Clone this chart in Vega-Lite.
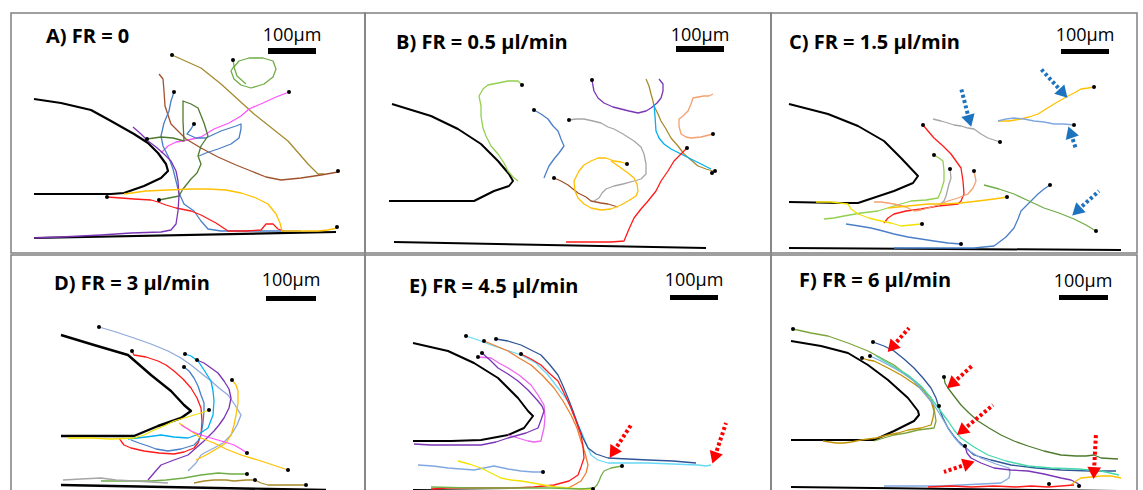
{
"$schema":"https://vega.github.io/schema/vega-lite/v6.json",
"padding":{"left":10,"top":12,"right":7,"bottom":0},
"background":"white",
"config":{"view":{"stroke":"#808080","strokeWidth":1.5}},
"datasets":{
"wA":[{"s":"pillar","x":33,"y":98},{"s":"pillar","x":60,"y":102},{"s":"pillar","x":90,"y":109},{"s":"pillar","x":110,"y":120},{"s":"pillar","x":133,"y":133},{"s":"pillar","x":147,"y":142},{"s":"pillar","x":157,"y":152},{"s":"pillar","x":165,"y":163},{"s":"pillar","x":167,"y":170},{"s":"pillar","x":160,"y":177},{"s":"pillar","x":143,"y":185},{"s":"pillar","x":123,"y":192},{"s":"pillar","x":110,"y":193},{"s":"pillar","x":33,"y":193},{"s":"wall","x":33,"y":237},{"s":"wall","x":335,"y":231}],
"wB":[{"s":"pillar","x":391,"y":103},{"s":"pillar","x":430,"y":115},{"s":"pillar","x":457,"y":128},{"s":"pillar","x":480,"y":143},{"s":"pillar","x":497,"y":160},{"s":"pillar","x":508,"y":173},{"s":"pillar","x":512,"y":180},{"s":"pillar","x":508,"y":185},{"s":"pillar","x":493,"y":190},{"s":"pillar","x":473,"y":200},{"s":"pillar","x":450,"y":200},{"s":"pillar","x":388,"y":200},{"s":"wall","x":393,"y":241},{"s":"wall","x":705,"y":247}],
"wC":[{"s":"pillar","x":788,"y":103},{"s":"pillar","x":827,"y":113},{"s":"pillar","x":857,"y":125},{"s":"pillar","x":883,"y":140},{"s":"pillar","x":900,"y":157},{"s":"pillar","x":917,"y":175},{"s":"pillar","x":912,"y":182},{"s":"pillar","x":893,"y":190},{"s":"pillar","x":857,"y":202},{"s":"pillar","x":840,"y":202},{"s":"pillar","x":788,"y":201},{"s":"wall","x":788,"y":247},{"s":"wall","x":1120,"y":249}],
"wD":[{"s":"pillar","x":60,"y":332},{"s":"pillar","x":93,"y":342},{"s":"pillar","x":127,"y":352},{"s":"pillar","x":150,"y":372},{"s":"pillar","x":170,"y":388},{"s":"pillar","x":183,"y":402},{"s":"pillar","x":190,"y":408},{"s":"pillar","x":180,"y":415},{"s":"pillar","x":157,"y":423},{"s":"pillar","x":133,"y":433},{"s":"pillar","x":100,"y":433},{"s":"pillar","x":60,"y":433},{"s":"wall","x":60,"y":482},{"s":"wall","x":325,"y":487}],
"wE":[{"s":"pillar","x":412,"y":340},{"s":"pillar","x":447,"y":348},{"s":"pillar","x":473,"y":360},{"s":"pillar","x":497,"y":375},{"s":"pillar","x":517,"y":395},{"s":"pillar","x":527,"y":408},{"s":"pillar","x":532,"y":413},{"s":"pillar","x":523,"y":425},{"s":"pillar","x":507,"y":432},{"s":"pillar","x":480,"y":437},{"s":"pillar","x":450,"y":438},{"s":"pillar","x":412,"y":438},{"s":"wall","x":412,"y":487},{"s":"wall","x":717,"y":490}],
"wF":[{"s":"pillar","x":790,"y":338},{"s":"pillar","x":820,"y":343},{"s":"pillar","x":847,"y":350},{"s":"pillar","x":867,"y":362},{"s":"pillar","x":887,"y":377},{"s":"pillar","x":907,"y":395},{"s":"pillar","x":917,"y":408},{"s":"pillar","x":918,"y":412},{"s":"pillar","x":913,"y":418},{"s":"pillar","x":893,"y":428},{"s":"pillar","x":873,"y":437},{"s":"pillar","x":790,"y":437},{"s":"wall","x":790,"y":484},{"s":"wall","x":1118,"y":488}],
"trA":[
{"s":"olive","x":171,"y":54},{"s":"olive","x":200,"y":67},{"s":"olive","x":220,"y":83},{"s":"olive","x":253,"y":113},{"s":"olive","x":287,"y":140},{"s":"olive","x":307,"y":163},{"s":"olive","x":317,"y":173},{"s":"olive","x":323,"y":173},
{"s":"green","x":232,"y":59},{"s":"green","x":233,"y":65},{"s":"green","x":230,"y":70},{"s":"green","x":233,"y":78},{"s":"green","x":240,"y":84},{"s":"green","x":250,"y":87},{"s":"green","x":263,"y":83},{"s":"green","x":272,"y":76},{"s":"green","x":275,"y":68},{"s":"green","x":272,"y":60},{"s":"green","x":262,"y":57},{"s":"green","x":248,"y":57},{"s":"green","x":238,"y":60},{"s":"green","x":233,"y":66},{"s":"green","x":236,"y":75},{"s":"green","x":245,"y":83},
{"s":"magenta","x":288,"y":91},{"s":"magenta","x":275,"y":96},{"s":"magenta","x":262,"y":102},{"s":"magenta","x":248,"y":108},{"s":"magenta","x":240,"y":115},{"s":"magenta","x":228,"y":122},{"s":"magenta","x":213,"y":128},{"s":"magenta","x":200,"y":136},{"s":"magenta","x":187,"y":139},{"s":"magenta","x":175,"y":141},{"s":"magenta","x":167,"y":145},{"s":"magenta","x":160,"y":152},
{"s":"brown","x":158,"y":73},{"s":"brown","x":162,"y":78},{"s":"brown","x":163,"y":90},{"s":"brown","x":164,"y":105},{"s":"brown","x":170,"y":123},{"s":"brown","x":185,"y":138},{"s":"brown","x":200,"y":147},{"s":"brown","x":217,"y":156},{"s":"brown","x":235,"y":164},{"s":"brown","x":250,"y":170},{"s":"brown","x":265,"y":176},{"s":"brown","x":280,"y":179},{"s":"brown","x":300,"y":177},{"s":"brown","x":320,"y":174},{"s":"brown","x":337,"y":171},
{"s":"blue","x":173,"y":91},{"s":"blue","x":170,"y":100},{"s":"blue","x":168,"y":110},{"s":"blue","x":163,"y":122},{"s":"blue","x":160,"y":135},{"s":"blue","x":162,"y":145},{"s":"blue","x":168,"y":157},{"s":"blue","x":172,"y":168},{"s":"blue","x":175,"y":180},{"s":"blue","x":178,"y":192},{"s":"blue","x":183,"y":203},{"s":"blue","x":193,"y":210},{"s":"blue","x":200,"y":220},{"s":"blue","x":207,"y":228},{"s":"blue","x":220,"y":230},{"s":"blue","x":260,"y":230},{"s":"blue","x":300,"y":230},
{"s":"blue2","x":193,"y":123},{"s":"blue2","x":190,"y":128},{"s":"blue2","x":186,"y":133},{"s":"blue2","x":195,"y":137},{"s":"blue2","x":205,"y":137},{"s":"blue2","x":220,"y":130},{"s":"blue2","x":235,"y":125},{"s":"blue2","x":240,"y":123},{"s":"blue2","x":240,"y":128},{"s":"blue2","x":238,"y":137},{"s":"blue2","x":230,"y":143},{"s":"blue2","x":217,"y":148},{"s":"blue2","x":205,"y":152},{"s":"blue2","x":198,"y":155},
{"s":"green_dk","x":146,"y":138},{"s":"green_dk","x":160,"y":136},{"s":"green_dk","x":172,"y":137},{"s":"green_dk","x":183,"y":140},{"s":"green_dk","x":182,"y":120},{"s":"green_dk","x":182,"y":100},{"s":"green_dk","x":190,"y":103},{"s":"green_dk","x":197,"y":107},{"s":"green_dk","x":203,"y":122},{"s":"green_dk","x":207,"y":135},{"s":"green_dk","x":200,"y":145},{"s":"green_dk","x":197,"y":155},{"s":"green_dk","x":200,"y":163},{"s":"green_dk","x":196,"y":172},{"s":"green_dk","x":190,"y":178},{"s":"green_dk","x":182,"y":188},{"s":"green_dk","x":178,"y":195},{"s":"green_dk","x":168,"y":197},{"s":"green_dk","x":158,"y":199},
{"s":"red","x":106,"y":196},{"s":"red","x":120,"y":197},{"s":"red","x":133,"y":198},{"s":"red","x":150,"y":199},{"s":"red","x":157,"y":201},{"s":"red","x":165,"y":204},{"s":"red","x":175,"y":207},{"s":"red","x":190,"y":210},{"s":"red","x":200,"y":214},{"s":"red","x":215,"y":222},{"s":"red","x":227,"y":230},{"s":"red","x":245,"y":230},{"s":"red","x":260,"y":229},{"s":"red","x":265,"y":223},{"s":"red","x":272,"y":223},{"s":"red","x":277,"y":228},{"s":"red","x":283,"y":230},
{"s":"purple","x":132,"y":126},{"s":"purple","x":140,"y":133},{"s":"purple","x":147,"y":140},{"s":"purple","x":155,"y":146},{"s":"purple","x":163,"y":153},{"s":"purple","x":170,"y":160},{"s":"purple","x":175,"y":170},{"s":"purple","x":177,"y":180},{"s":"purple","x":178,"y":195},{"s":"purple","x":177,"y":210},{"s":"purple","x":175,"y":223},{"s":"purple","x":170,"y":229},{"s":"purple","x":160,"y":231},{"s":"purple","x":130,"y":232},{"s":"purple","x":100,"y":234},{"s":"purple","x":60,"y":236},{"s":"purple","x":33,"y":237},
{"s":"gold","x":123,"y":193},{"s":"gold","x":145,"y":190},{"s":"gold","x":167,"y":189},{"s":"gold","x":190,"y":188},{"s":"gold","x":207,"y":188},{"s":"gold","x":225,"y":189},{"s":"gold","x":240,"y":192},{"s":"gold","x":255,"y":197},{"s":"gold","x":267,"y":203},{"s":"gold","x":275,"y":213},{"s":"gold","x":279,"y":222},{"s":"gold","x":281,"y":230},{"s":"gold","x":300,"y":230},{"s":"gold","x":317,"y":230},{"s":"gold","x":327,"y":229},{"s":"gold","x":336,"y":227}],
"trB":[
{"s":"green_lt","x":521,"y":84},{"s":"green_lt","x":517,"y":80},{"s":"green_lt","x":507,"y":80},{"s":"green_lt","x":497,"y":82},{"s":"green_lt","x":487,"y":84},{"s":"green_lt","x":482,"y":88},{"s":"green_lt","x":478,"y":95},{"s":"green_lt","x":480,"y":105},{"s":"green_lt","x":480,"y":115},{"s":"green_lt","x":482,"y":127},{"s":"green_lt","x":485,"y":135},{"s":"green_lt","x":490,"y":145},{"s":"green_lt","x":497,"y":153},{"s":"green_lt","x":503,"y":162},{"s":"green_lt","x":507,"y":170},{"s":"green_lt","x":512,"y":176},{"s":"green_lt","x":517,"y":180},
{"s":"blue","x":533,"y":109},{"s":"blue","x":540,"y":113},{"s":"blue","x":547,"y":118},{"s":"blue","x":552,"y":125},{"s":"blue","x":557,"y":130},{"s":"blue","x":560,"y":138},{"s":"blue","x":563,"y":145},{"s":"blue","x":558,"y":152},{"s":"blue","x":553,"y":158},{"s":"blue","x":548,"y":165},{"s":"blue","x":545,"y":172},{"s":"blue","x":543,"y":177},
{"s":"brown","x":553,"y":177},{"s":"brown","x":560,"y":180},{"s":"brown","x":567,"y":184},{"s":"brown","x":572,"y":188},{"s":"brown","x":577,"y":192},{"s":"brown","x":585,"y":196},{"s":"brown","x":590,"y":200},{"s":"brown","x":600,"y":202},{"s":"brown","x":607,"y":203},{"s":"brown","x":617,"y":206},
{"s":"gray","x":568,"y":119},{"s":"gray","x":575,"y":118},{"s":"gray","x":583,"y":118},{"s":"gray","x":592,"y":120},{"s":"gray","x":600,"y":122},{"s":"gray","x":607,"y":126},{"s":"gray","x":613,"y":128},{"s":"gray","x":622,"y":133},{"s":"gray","x":633,"y":140},{"s":"gray","x":640,"y":146},{"s":"gray","x":643,"y":153},{"s":"gray","x":645,"y":163},{"s":"gray","x":645,"y":173},{"s":"gray","x":640,"y":178},{"s":"gray","x":633,"y":180},{"s":"gray","x":622,"y":183},{"s":"gray","x":613,"y":185},{"s":"gray","x":605,"y":188},{"s":"gray","x":601,"y":192},{"s":"gray","x":598,"y":197},{"s":"gray","x":593,"y":200},
{"s":"gold","x":626,"y":163},{"s":"gold","x":620,"y":161},{"s":"gold","x":613,"y":160},{"s":"gold","x":605,"y":157},{"s":"gold","x":597,"y":157},{"s":"gold","x":590,"y":160},{"s":"gold","x":583,"y":164},{"s":"gold","x":578,"y":170},{"s":"gold","x":573,"y":180},{"s":"gold","x":574,"y":190},{"s":"gold","x":577,"y":197},{"s":"gold","x":583,"y":203},{"s":"gold","x":590,"y":207},{"s":"gold","x":600,"y":209},{"s":"gold","x":610,"y":208},{"s":"gold","x":620,"y":204},{"s":"gold","x":627,"y":200},{"s":"gold","x":635,"y":195},{"s":"gold","x":637,"y":190},{"s":"gold","x":636,"y":183},{"s":"gold","x":633,"y":177},{"s":"gold","x":627,"y":172},{"s":"gold","x":620,"y":167},{"s":"gold","x":613,"y":162},{"s":"gold","x":610,"y":160},
{"s":"purple","x":591,"y":79},{"s":"purple","x":592,"y":85},{"s":"purple","x":593,"y":90},{"s":"purple","x":597,"y":97},{"s":"purple","x":603,"y":102},{"s":"purple","x":612,"y":106},{"s":"purple","x":620,"y":108},{"s":"purple","x":628,"y":110},{"s":"purple","x":637,"y":112},{"s":"purple","x":645,"y":110},{"s":"purple","x":650,"y":107},{"s":"purple","x":656,"y":102},{"s":"purple","x":660,"y":97},{"s":"purple","x":662,"y":90},{"s":"purple","x":662,"y":83},{"s":"purple","x":658,"y":78},
{"s":"olive","x":645,"y":78},{"s":"olive","x":648,"y":85},{"s":"olive","x":650,"y":93},{"s":"olive","x":652,"y":100},{"s":"olive","x":653,"y":105},{"s":"olive","x":657,"y":113},{"s":"olive","x":660,"y":120},{"s":"olive","x":665,"y":128},{"s":"olive","x":670,"y":137},{"s":"olive","x":677,"y":145},{"s":"olive","x":683,"y":153},{"s":"olive","x":690,"y":159},{"s":"olive","x":697,"y":165},{"s":"olive","x":705,"y":168},{"s":"olive","x":712,"y":170},
{"s":"cyan","x":653,"y":103},{"s":"cyan","x":654,"y":115},{"s":"cyan","x":655,"y":130},{"s":"cyan","x":658,"y":137},{"s":"cyan","x":663,"y":143},{"s":"cyan","x":670,"y":148},{"s":"cyan","x":680,"y":153},{"s":"cyan","x":690,"y":158},{"s":"cyan","x":700,"y":163},{"s":"cyan","x":710,"y":168},
{"s":"orange_lt","x":712,"y":93},{"s":"orange_lt","x":708,"y":95},{"s":"orange_lt","x":703,"y":95},{"s":"orange_lt","x":697,"y":96},{"s":"orange_lt","x":692,"y":97},{"s":"orange_lt","x":690,"y":103},{"s":"orange_lt","x":687,"y":110},{"s":"orange_lt","x":682,"y":115},{"s":"orange_lt","x":678,"y":118},{"s":"orange_lt","x":678,"y":125},{"s":"orange_lt","x":680,"y":133},{"s":"orange_lt","x":685,"y":136},{"s":"orange_lt","x":690,"y":137},{"s":"orange_lt","x":700,"y":136},{"s":"orange_lt","x":712,"y":133},
{"s":"red","x":686,"y":147},{"s":"red","x":680,"y":153},{"s":"red","x":673,"y":160},{"s":"red","x":667,"y":170},{"s":"red","x":660,"y":180},{"s":"red","x":655,"y":190},{"s":"red","x":647,"y":200},{"s":"red","x":640,"y":208},{"s":"red","x":633,"y":217},{"s":"red","x":628,"y":228},{"s":"red","x":623,"y":240},{"s":"red","x":610,"y":241},{"s":"red","x":595,"y":241},{"s":"red","x":580,"y":241},{"s":"red","x":565,"y":241}],
"trC":[
{"s":"gray","x":932,"y":118},{"s":"gray","x":940,"y":120},{"s":"gray","x":947,"y":122},{"s":"gray","x":953,"y":124},{"s":"gray","x":960,"y":125},{"s":"gray","x":967,"y":127},{"s":"gray","x":973,"y":128},{"s":"gray","x":980,"y":133},{"s":"gray","x":987,"y":137},{"s":"gray","x":993,"y":139},{"s":"gray","x":999,"y":141},
{"s":"gold","x":1093,"y":86},{"s":"gold","x":1087,"y":87},{"s":"gold","x":1080,"y":88},{"s":"gold","x":1073,"y":92},{"s":"gold","x":1067,"y":95},{"s":"gold","x":1060,"y":99},{"s":"gold","x":1053,"y":103},{"s":"gold","x":1045,"y":108},{"s":"gold","x":1037,"y":113},{"s":"gold","x":1028,"y":116},{"s":"gold","x":1020,"y":118},{"s":"gold","x":1008,"y":120},{"s":"gold","x":997,"y":120},
{"s":"blue_lt","x":997,"y":120},{"s":"blue_lt","x":1005,"y":118},{"s":"blue_lt","x":1013,"y":117},{"s":"blue_lt","x":1023,"y":118},{"s":"blue_lt","x":1033,"y":120},{"s":"blue_lt","x":1043,"y":121},{"s":"blue_lt","x":1053,"y":123},{"s":"blue_lt","x":1063,"y":123},{"s":"blue_lt","x":1073,"y":124},
{"s":"red","x":922,"y":124},{"s":"red","x":927,"y":130},{"s":"red","x":933,"y":137},{"s":"red","x":942,"y":145},{"s":"red","x":950,"y":153},{"s":"red","x":955,"y":160},{"s":"red","x":960,"y":167},{"s":"red","x":962,"y":180},{"s":"red","x":963,"y":193},{"s":"red","x":960,"y":200},{"s":"red","x":957,"y":203},{"s":"red","x":947,"y":204},{"s":"red","x":937,"y":205},{"s":"red","x":920,"y":208},{"s":"red","x":905,"y":210},{"s":"red","x":893,"y":213},{"s":"red","x":887,"y":217},{"s":"red","x":883,"y":222},
{"s":"green_lt","x":933,"y":154},{"s":"green_lt","x":938,"y":157},{"s":"green_lt","x":942,"y":160},{"s":"green_lt","x":943,"y":170},{"s":"green_lt","x":943,"y":180},{"s":"green_lt","x":940,"y":190},{"s":"green_lt","x":937,"y":197},{"s":"green_lt","x":925,"y":199},{"s":"green_lt","x":910,"y":200},{"s":"green_lt","x":893,"y":205},{"s":"green_lt","x":877,"y":210},{"s":"green_lt","x":860,"y":212},{"s":"green_lt","x":843,"y":215},{"s":"green_lt","x":833,"y":217},{"s":"green_lt","x":823,"y":218},
{"s":"gray2","x":949,"y":168},{"s":"gray2","x":950,"y":177},{"s":"gray2","x":948,"y":183},{"s":"gray2","x":947,"y":187},{"s":"gray2","x":945,"y":195},{"s":"gray2","x":943,"y":200},{"s":"gray2","x":937,"y":205},
{"s":"orange_lt","x":973,"y":170},{"s":"orange_lt","x":975,"y":180},{"s":"orange_lt","x":972,"y":187},{"s":"orange_lt","x":967,"y":193},{"s":"orange_lt","x":957,"y":197},{"s":"orange_lt","x":947,"y":200},{"s":"orange_lt","x":937,"y":204},{"s":"orange_lt","x":927,"y":207},{"s":"orange_lt","x":920,"y":209},{"s":"orange_lt","x":913,"y":210},{"s":"orange_lt","x":905,"y":206},{"s":"orange_lt","x":893,"y":203},{"s":"orange_lt","x":880,"y":201},{"s":"orange_lt","x":873,"y":201},
{"s":"gold2","x":887,"y":207},{"s":"gold2","x":907,"y":205},{"s":"gold2","x":927,"y":203},{"s":"gold2","x":943,"y":203},{"s":"gold2","x":960,"y":202},{"s":"gold2","x":977,"y":200},{"s":"gold2","x":993,"y":198},{"s":"gold2","x":1000,"y":197},{"s":"gold2","x":1006,"y":196},
{"s":"yellow","x":815,"y":201},{"s":"yellow","x":830,"y":201},{"s":"yellow","x":847,"y":203},{"s":"yellow","x":850,"y":208},{"s":"yellow","x":857,"y":213},{"s":"yellow","x":868,"y":217},{"s":"yellow","x":880,"y":220},{"s":"yellow","x":890,"y":222},{"s":"yellow","x":900,"y":225},{"s":"yellow","x":910,"y":224},{"s":"yellow","x":920,"y":223},
{"s":"blue","x":845,"y":223},{"s":"blue","x":858,"y":225},{"s":"blue","x":870,"y":227},{"s":"blue","x":882,"y":230},{"s":"blue","x":893,"y":233},{"s":"blue","x":907,"y":236},{"s":"blue","x":920,"y":238},{"s":"blue","x":933,"y":240},{"s":"blue","x":947,"y":242},{"s":"blue","x":960,"y":243},
{"s":"blue2","x":1049,"y":184},{"s":"blue2","x":1043,"y":188},{"s":"blue2","x":1037,"y":193},{"s":"blue2","x":1030,"y":200},{"s":"blue2","x":1020,"y":210},{"s":"blue2","x":1017,"y":218},{"s":"blue2","x":1013,"y":227},{"s":"blue2","x":1005,"y":236},{"s":"blue2","x":993,"y":245},{"s":"blue2","x":983,"y":246},{"s":"blue2","x":973,"y":247},{"s":"blue2","x":940,"y":247},{"s":"blue2","x":893,"y":247},
{"s":"green","x":983,"y":184},{"s":"green","x":998,"y":188},{"s":"green","x":1013,"y":193},{"s":"green","x":1028,"y":200},{"s":"green","x":1043,"y":207},{"s":"green","x":1058,"y":212},{"s":"green","x":1073,"y":218},{"s":"green","x":1085,"y":224},{"s":"green","x":1095,"y":230}],
"trD":[
{"s":"bluegray","x":98,"y":324},{"s":"bluegray","x":115,"y":329},{"s":"bluegray","x":133,"y":335},{"s":"bluegray","x":150,"y":341},{"s":"bluegray","x":167,"y":348},{"s":"bluegray","x":180,"y":355},{"s":"bluegray","x":190,"y":362},{"s":"bluegray","x":200,"y":370},{"s":"bluegray","x":210,"y":378},{"s":"bluegray","x":218,"y":385},{"s":"bluegray","x":227,"y":392},{"s":"bluegray","x":234,"y":402},{"s":"bluegray","x":240,"y":412},{"s":"bluegray","x":236,"y":422},{"s":"bluegray","x":230,"y":432},{"s":"bluegray","x":222,"y":440},{"s":"bluegray","x":213,"y":445},{"s":"bluegray","x":205,"y":449},{"s":"bluegray","x":200,"y":452},{"s":"bluegray","x":195,"y":460},{"s":"bluegray","x":187,"y":468},
{"s":"red","x":131,"y":348},{"s":"red","x":133,"y":352},{"s":"red","x":145,"y":354},{"s":"red","x":157,"y":358},{"s":"red","x":165,"y":362},{"s":"red","x":173,"y":368},{"s":"red","x":182,"y":376},{"s":"red","x":190,"y":385},{"s":"red","x":196,"y":395},{"s":"red","x":200,"y":405},{"s":"red","x":201,"y":418},{"s":"red","x":200,"y":432},{"s":"red","x":197,"y":440},{"s":"red","x":193,"y":445},{"s":"red","x":183,"y":449},{"s":"red","x":173,"y":451},{"s":"red","x":158,"y":450},{"s":"red","x":143,"y":448},{"s":"red","x":130,"y":445},{"s":"red","x":123,"y":442},{"s":"red","x":120,"y":438},{"s":"red","x":118,"y":435},
{"s":"cyan","x":184,"y":351},{"s":"cyan","x":190,"y":353},{"s":"cyan","x":197,"y":358},{"s":"cyan","x":203,"y":367},{"s":"cyan","x":210,"y":378},{"s":"cyan","x":212,"y":388},{"s":"cyan","x":213,"y":398},{"s":"cyan","x":212,"y":412},{"s":"cyan","x":207,"y":425},{"s":"cyan","x":198,"y":431},{"s":"cyan","x":187,"y":435},{"s":"cyan","x":173,"y":434},{"s":"cyan","x":160,"y":432},{"s":"cyan","x":145,"y":434},{"s":"cyan","x":127,"y":436},
{"s":"blue","x":183,"y":364},{"s":"blue","x":188,"y":368},{"s":"blue","x":193,"y":375},{"s":"blue","x":197,"y":383},{"s":"blue","x":200,"y":392},{"s":"blue","x":203,"y":400},{"s":"blue","x":203,"y":408},{"s":"blue","x":202,"y":420},{"s":"blue","x":200,"y":432},{"s":"blue","x":197,"y":438},{"s":"blue","x":193,"y":442},{"s":"blue","x":180,"y":446},{"s":"blue","x":167,"y":448},{"s":"blue","x":155,"y":446},{"s":"blue","x":147,"y":443},{"s":"blue","x":138,"y":440},{"s":"blue","x":130,"y":437},
{"s":"purple","x":196,"y":357},{"s":"purple","x":203,"y":360},{"s":"purple","x":210,"y":365},{"s":"purple","x":217,"y":370},{"s":"purple","x":223,"y":378},{"s":"purple","x":228,"y":386},{"s":"purple","x":230,"y":395},{"s":"purple","x":228,"y":405},{"s":"purple","x":223,"y":415},{"s":"purple","x":218,"y":422},{"s":"purple","x":213,"y":428},{"s":"purple","x":208,"y":433},{"s":"purple","x":203,"y":438},{"s":"purple","x":195,"y":445},{"s":"purple","x":187,"y":452},{"s":"purple","x":173,"y":457},{"s":"purple","x":160,"y":462},{"s":"purple","x":153,"y":470},{"s":"purple","x":147,"y":477},
{"s":"gold","x":231,"y":377},{"s":"gold","x":235,"y":382},{"s":"gold","x":237,"y":388},{"s":"gold","x":237,"y":400},{"s":"gold","x":235,"y":412},{"s":"gold","x":233,"y":422},{"s":"gold","x":230,"y":432},{"s":"gold","x":225,"y":440},{"s":"gold","x":217,"y":445},{"s":"gold","x":205,"y":452},{"s":"gold","x":195,"y":457},
{"s":"gold2","x":178,"y":420},{"s":"gold2","x":190,"y":428},{"s":"gold2","x":200,"y":435},{"s":"gold2","x":213,"y":440},{"s":"gold2","x":225,"y":446},{"s":"gold2","x":240,"y":452},{"s":"gold2","x":260,"y":458},{"s":"gold2","x":275,"y":463},{"s":"gold2","x":287,"y":467},
{"s":"yellow","x":208,"y":407},{"s":"yellow","x":200,"y":410},{"s":"yellow","x":193,"y":412},{"s":"yellow","x":183,"y":415},{"s":"yellow","x":173,"y":418},{"s":"yellow","x":163,"y":423},{"s":"yellow","x":153,"y":427},{"s":"yellow","x":143,"y":432},{"s":"yellow","x":133,"y":435},{"s":"yellow","x":110,"y":436},{"s":"yellow","x":90,"y":435},{"s":"yellow","x":67,"y":435},
{"s":"magenta","x":180,"y":422},{"s":"magenta","x":190,"y":428},{"s":"magenta","x":200,"y":432},{"s":"magenta","x":210,"y":435},{"s":"magenta","x":220,"y":438},{"s":"magenta","x":227,"y":440},{"s":"magenta","x":233,"y":442},{"s":"magenta","x":240,"y":446},{"s":"magenta","x":246,"y":450},
{"s":"green","x":100,"y":478},{"s":"green","x":125,"y":478},{"s":"green","x":150,"y":478},{"s":"green","x":165,"y":477},{"s":"green","x":183,"y":475},{"s":"green","x":200,"y":472},{"s":"green","x":217,"y":470},{"s":"green","x":230,"y":471},{"s":"green","x":246,"y":471},
{"s":"gray","x":62,"y":477},{"s":"gray","x":80,"y":476},{"s":"gray","x":100,"y":475},{"s":"gray","x":115,"y":477},{"s":"gray","x":133,"y":478},{"s":"gray","x":150,"y":479},{"s":"gray","x":167,"y":480},
{"s":"olive","x":193,"y":480},{"s":"olive","x":203,"y":478},{"s":"olive","x":213,"y":477},{"s":"olive","x":225,"y":477},{"s":"olive","x":233,"y":478},{"s":"olive","x":245,"y":477},{"s":"olive","x":254,"y":477},{"s":"olive","x":260,"y":480},{"s":"olive","x":267,"y":482},{"s":"olive","x":285,"y":482},{"s":"olive","x":305,"y":482}],
"trE":[
{"s":"cyan_lt","x":465,"y":333},{"s":"cyan_lt","x":477,"y":337},{"s":"cyan_lt","x":490,"y":342},{"s":"cyan_lt","x":505,"y":347},{"s":"cyan_lt","x":520,"y":352},{"s":"cyan_lt","x":535,"y":360},{"s":"cyan_lt","x":547,"y":372},{"s":"cyan_lt","x":557,"y":385},{"s":"cyan_lt","x":567,"y":398},{"s":"cyan_lt","x":573,"y":413},{"s":"cyan_lt","x":580,"y":428},{"s":"cyan_lt","x":585,"y":440},{"s":"cyan_lt","x":590,"y":452},{"s":"cyan_lt","x":597,"y":457},{"s":"cyan_lt","x":607,"y":460},{"s":"cyan_lt","x":627,"y":460},{"s":"cyan_lt","x":647,"y":460},{"s":"cyan_lt","x":672,"y":461},{"s":"cyan_lt","x":697,"y":462},{"s":"cyan_lt","x":705,"y":463},{"s":"cyan_lt","x":710,"y":462},
{"s":"blue_dk","x":495,"y":336},{"s":"blue_dk","x":507,"y":338},{"s":"blue_dk","x":520,"y":342},{"s":"blue_dk","x":530,"y":347},{"s":"blue_dk","x":540,"y":352},{"s":"blue_dk","x":549,"y":362},{"s":"blue_dk","x":557,"y":372},{"s":"blue_dk","x":562,"y":383},{"s":"blue_dk","x":567,"y":395},{"s":"blue_dk","x":572,"y":408},{"s":"blue_dk","x":577,"y":422},{"s":"blue_dk","x":582,"y":435},{"s":"blue_dk","x":587,"y":445},{"s":"blue_dk","x":595,"y":451},{"s":"blue_dk","x":607,"y":455},{"s":"blue_dk","x":627,"y":456},{"s":"blue_dk","x":647,"y":457},{"s":"blue_dk","x":672,"y":458},{"s":"blue_dk","x":695,"y":460},
{"s":"orange","x":483,"y":338},{"s":"orange","x":495,"y":343},{"s":"orange","x":507,"y":348},{"s":"orange","x":518,"y":355},{"s":"orange","x":530,"y":362},{"s":"orange","x":542,"y":373},{"s":"orange","x":553,"y":385},{"s":"orange","x":562,"y":398},{"s":"orange","x":570,"y":412},{"s":"orange","x":576,"y":425},{"s":"orange","x":580,"y":438},{"s":"orange","x":584,"y":450},{"s":"orange","x":587,"y":462},{"s":"orange","x":585,"y":470},{"s":"orange","x":580,"y":478},{"s":"orange","x":573,"y":482},{"s":"orange","x":567,"y":485},
{"s":"red","x":520,"y":351},{"s":"red","x":530,"y":356},{"s":"red","x":540,"y":362},{"s":"red","x":548,"y":370},{"s":"red","x":557,"y":378},{"s":"red","x":563,"y":390},{"s":"red","x":570,"y":405},{"s":"red","x":575,"y":418},{"s":"red","x":580,"y":432},{"s":"red","x":582,"y":443},{"s":"red","x":583,"y":455},{"s":"red","x":580,"y":464},{"s":"red","x":577,"y":472},{"s":"red","x":568,"y":478},{"s":"red","x":553,"y":482},{"s":"red","x":533,"y":484},{"s":"red","x":513,"y":485},{"s":"red","x":480,"y":485},{"s":"red","x":447,"y":485},{"s":"red","x":430,"y":486},
{"s":"magenta2","x":477,"y":354},{"s":"magenta2","x":490,"y":355},{"s":"magenta2","x":498,"y":360},{"s":"magenta2","x":507,"y":365},{"s":"magenta2","x":518,"y":372},{"s":"magenta2","x":530,"y":382},{"s":"magenta2","x":537,"y":392},{"s":"magenta2","x":543,"y":402},{"s":"magenta2","x":544,"y":415},{"s":"magenta2","x":543,"y":425},{"s":"magenta2","x":541,"y":433},{"s":"magenta2","x":540,"y":438},{"s":"magenta2","x":533,"y":439},{"s":"magenta2","x":527,"y":438},{"s":"magenta2","x":517,"y":435},{"s":"magenta2","x":507,"y":432},
{"s":"purple","x":481,"y":350},{"s":"purple","x":489,"y":357},{"s":"purple","x":497,"y":365},{"s":"purple","x":507,"y":371},{"s":"purple","x":517,"y":378},{"s":"purple","x":527,"y":387},{"s":"purple","x":537,"y":398},{"s":"purple","x":541,"y":403},{"s":"purple","x":543,"y":408},{"s":"purple","x":540,"y":417},{"s":"purple","x":537,"y":425},{"s":"purple","x":525,"y":430},{"s":"purple","x":507,"y":435},{"s":"purple","x":495,"y":439},{"s":"purple","x":480,"y":442},{"s":"purple","x":463,"y":442},{"s":"purple","x":447,"y":442},{"s":"purple","x":430,"y":442},{"s":"purple","x":413,"y":441},
{"s":"blue_lt","x":417,"y":462},{"s":"blue_lt","x":432,"y":463},{"s":"blue_lt","x":447,"y":465},{"s":"blue_lt","x":460,"y":466},{"s":"blue_lt","x":473,"y":467},{"s":"blue_lt","x":483,"y":465},{"s":"blue_lt","x":493,"y":463},{"s":"blue_lt","x":507,"y":466},{"s":"blue_lt","x":520,"y":468},{"s":"blue_lt","x":532,"y":469},{"s":"blue_lt","x":542,"y":469},
{"s":"yellow","x":457,"y":458},{"s":"yellow","x":468,"y":461},{"s":"yellow","x":480,"y":465},{"s":"yellow","x":490,"y":470},{"s":"yellow","x":500,"y":475},{"s":"yellow","x":510,"y":477},{"s":"yellow","x":520,"y":478},{"s":"yellow","x":532,"y":480},{"s":"yellow","x":543,"y":482},{"s":"yellow","x":555,"y":484},{"s":"yellow","x":567,"y":485},{"s":"yellow","x":580,"y":486},{"s":"yellow","x":590,"y":486},
{"s":"green","x":430,"y":484},{"s":"green","x":470,"y":485},{"s":"green","x":513,"y":485},{"s":"green","x":550,"y":485},{"s":"green","x":580,"y":486},{"s":"green","x":593,"y":485},{"s":"green","x":596,"y":482},{"s":"green","x":598,"y":478},{"s":"green","x":600,"y":473},{"s":"green","x":603,"y":468},{"s":"green","x":610,"y":465},{"s":"green","x":621,"y":463}],
"trF":[
{"s":"olivegreen","x":792,"y":326},{"s":"olivegreen","x":810,"y":330},{"s":"olivegreen","x":827,"y":333},{"s":"olivegreen","x":847,"y":340},{"s":"olivegreen","x":867,"y":348},{"s":"olivegreen","x":880,"y":355},{"s":"olivegreen","x":893,"y":362},{"s":"olivegreen","x":903,"y":370},{"s":"olivegreen","x":913,"y":378},{"s":"olivegreen","x":922,"y":386},{"s":"olivegreen","x":930,"y":395},{"s":"olivegreen","x":933,"y":405},{"s":"olivegreen","x":935,"y":418},{"s":"olivegreen","x":933,"y":425},{"s":"olivegreen","x":925,"y":426},{"s":"olivegreen","x":917,"y":427},{"s":"olivegreen","x":905,"y":430},{"s":"olivegreen","x":893,"y":432},{"s":"olivegreen","x":883,"y":435},{"s":"olivegreen","x":873,"y":438},
{"s":"goldbrown","x":861,"y":355},{"s":"goldbrown","x":867,"y":357},{"s":"goldbrown","x":873,"y":358},{"s":"goldbrown","x":887,"y":365},{"s":"goldbrown","x":900,"y":372},{"s":"goldbrown","x":912,"y":380},{"s":"goldbrown","x":923,"y":388},{"s":"goldbrown","x":930,"y":398},{"s":"goldbrown","x":933,"y":408},{"s":"goldbrown","x":932,"y":415},{"s":"goldbrown","x":930,"y":422},{"s":"goldbrown","x":920,"y":425},{"s":"goldbrown","x":907,"y":427},{"s":"goldbrown","x":897,"y":430},{"s":"goldbrown","x":887,"y":432},{"s":"goldbrown","x":875,"y":435},{"s":"goldbrown","x":860,"y":437},{"s":"goldbrown","x":850,"y":439},{"s":"goldbrown","x":843,"y":440},{"s":"goldbrown","x":835,"y":440},{"s":"goldbrown","x":822,"y":438},
{"s":"blue_dk","x":872,"y":339},{"s":"blue_dk","x":883,"y":343},{"s":"blue_dk","x":893,"y":348},{"s":"blue_dk","x":903,"y":356},{"s":"blue_dk","x":913,"y":365},{"s":"blue_dk","x":922,"y":375},{"s":"blue_dk","x":930,"y":385},{"s":"blue_dk","x":935,"y":395},{"s":"blue_dk","x":938,"y":405},{"s":"blue_dk","x":942,"y":415},{"s":"blue_dk","x":947,"y":425},{"s":"blue_dk","x":952,"y":432},{"s":"blue_dk","x":957,"y":438},{"s":"blue_dk","x":965,"y":445},{"s":"blue_dk","x":973,"y":452},{"s":"blue_dk","x":990,"y":457},{"s":"blue_dk","x":1010,"y":462},{"s":"blue_dk","x":1035,"y":465},{"s":"blue_dk","x":1060,"y":467},{"s":"blue_dk","x":1090,"y":468},{"s":"blue_dk","x":1115,"y":468},
{"s":"blue_lt","x":869,"y":353},{"s":"blue_lt","x":880,"y":358},{"s":"blue_lt","x":893,"y":365},{"s":"blue_lt","x":903,"y":371},{"s":"blue_lt","x":913,"y":378},{"s":"blue_lt","x":923,"y":390},{"s":"blue_lt","x":933,"y":402},{"s":"blue_lt","x":940,"y":413},{"s":"blue_lt","x":947,"y":425},{"s":"blue_lt","x":953,"y":434},{"s":"blue_lt","x":960,"y":442},{"s":"blue_lt","x":970,"y":449},{"s":"blue_lt","x":980,"y":455},{"s":"blue_lt","x":995,"y":461},{"s":"blue_lt","x":1008,"y":465},{"s":"blue_lt","x":1009,"y":470},{"s":"blue_lt","x":1008,"y":475},{"s":"blue_lt","x":1000,"y":480},{"s":"blue_lt","x":980,"y":481},{"s":"blue_lt","x":960,"y":482},{"s":"blue_lt","x":940,"y":483},{"s":"blue_lt","x":927,"y":483},{"s":"blue_lt","x":905,"y":483},{"s":"blue_lt","x":883,"y":483},
{"s":"teal","x":875,"y":353},{"s":"teal","x":890,"y":362},{"s":"teal","x":907,"y":372},{"s":"teal","x":920,"y":383},{"s":"teal","x":930,"y":395},{"s":"teal","x":938,"y":406},{"s":"teal","x":947,"y":418},{"s":"teal","x":953,"y":427},{"s":"teal","x":960,"y":435},{"s":"teal","x":973,"y":444},{"s":"teal","x":987,"y":452},{"s":"teal","x":1005,"y":458},{"s":"teal","x":1027,"y":463},{"s":"teal","x":1050,"y":465},{"s":"teal","x":1077,"y":466},{"s":"teal","x":1100,"y":468},{"s":"teal","x":1118,"y":472},
{"s":"green_dk","x":943,"y":374},{"s":"green_dk","x":944,"y":380},{"s":"green_dk","x":947,"y":385},{"s":"green_dk","x":953,"y":393},{"s":"green_dk","x":960,"y":402},{"s":"green_dk","x":968,"y":410},{"s":"green_dk","x":977,"y":418},{"s":"green_dk","x":988,"y":425},{"s":"green_dk","x":1000,"y":432},{"s":"green_dk","x":1013,"y":438},{"s":"green_dk","x":1027,"y":443},{"s":"green_dk","x":1043,"y":448},{"s":"green_dk","x":1060,"y":452},{"s":"green_dk","x":1075,"y":453},{"s":"green_dk","x":1085,"y":453},{"s":"green_dk","x":1093,"y":452},{"s":"green_dk","x":1100,"y":455},{"s":"green_dk","x":1117,"y":456},
{"s":"purple","x":964,"y":443},{"s":"purple","x":966,"y":450},{"s":"purple","x":970,"y":455},{"s":"purple","x":980,"y":460},{"s":"purple","x":993,"y":465},{"s":"purple","x":1010,"y":467},{"s":"purple","x":1027,"y":468},{"s":"purple","x":1043,"y":471},{"s":"purple","x":1060,"y":475},{"s":"purple","x":1070,"y":477},{"s":"purple","x":1076,"y":480},{"s":"purple","x":1080,"y":483},
{"s":"gold","x":1070,"y":482},{"s":"gold","x":1075,"y":478},{"s":"gold","x":1080,"y":475},{"s":"gold","x":1090,"y":474},{"s":"gold","x":1100,"y":473},{"s":"gold","x":1110,"y":473},{"s":"gold","x":1120,"y":475},
{"s":"red","x":927,"y":484},{"s":"red","x":950,"y":483},{"s":"red","x":970,"y":484},{"s":"red","x":993,"y":483},{"s":"red","x":1015,"y":484},{"s":"red","x":1030,"y":483},{"s":"red","x":1047,"y":484},{"s":"red","x":1060,"y":483},{"s":"red","x":1073,"y":482}],
"dA":[{"x":171,"y":54},{"x":232,"y":59},{"x":288,"y":91},{"x":173,"y":91},{"x":193,"y":123},{"x":146,"y":138},{"x":106,"y":196},{"x":158,"y":199},{"x":337,"y":170},{"x":336,"y":226}],
"dB":[{"x":521,"y":84},{"x":533,"y":109},{"x":553,"y":177},{"x":568,"y":119},{"x":626,"y":163},{"x":591,"y":79},{"x":711,"y":172},{"x":714,"y":170},{"x":712,"y":133},{"x":686,"y":147}],
"dC":[{"x":922,"y":124},{"x":999,"y":141},{"x":1093,"y":86},{"x":1073,"y":124},{"x":933,"y":154},{"x":949,"y":168},{"x":973,"y":170},{"x":1006,"y":196},{"x":1049,"y":184},{"x":921,"y":223},{"x":960,"y":243},{"x":1095,"y":230}],
"dD":[{"x":98,"y":324},{"x":131,"y":348},{"x":184,"y":351},{"x":196,"y":357},{"x":183,"y":364},{"x":231,"y":377},{"x":208,"y":407},{"x":246,"y":450},{"x":287,"y":467},{"x":246,"y":471},{"x":254,"y":477},{"x":305,"y":482}],
"dE":[{"x":465,"y":333},{"x":483,"y":338},{"x":495,"y":336},{"x":477,"y":354},{"x":481,"y":350},{"x":520,"y":351},{"x":542,"y":469},{"x":621,"y":463},{"x":592,"y":486}],
"dF":[{"x":792,"y":326},{"x":872,"y":339},{"x":861,"y":355},{"x":869,"y":353},{"x":943,"y":374},{"x":938,"y":403},{"x":964,"y":443},{"x":1048,"y":481},{"x":1078,"y":483}],
"titles":[{"p":"A","t":"A) FR = 0","x":45,"y":42},{"p":"B","t":"B) FR = 0.5 µl/min","x":395,"y":48},{"p":"C","t":"C) FR = 1.5 µl/min","x":788,"y":48},{"p":"D","t":"D) FR = 3 µl/min","x":53,"y":287},{"p":"E","t":"E) FR = 4.5 µl/min","x":408,"y":290},{"p":"F","t":"F) FR = 6 µl/min","x":798,"y":284}],
"scales":[{"p":"A","t":"100µm","x":291,"y":40},{"p":"B","t":"100µm","x":699,"y":40},{"p":"C","t":"100µm","x":1084,"y":40},{"p":"D","t":"100µm","x":290,"y":283},{"p":"E","t":"100µm","x":693,"y":283},{"p":"F","t":"100µm","x":1082,"y":284}],
"bars":[{"p":"A","x":267,"x2":315,"y":47,"y2":53},{"p":"B","x":675,"x2":723,"y":45,"y2":51},{"p":"C","x":1060,"x2":1108,"y":48,"y2":53},{"p":"D","x":265,"x2":315,"y":293,"y2":298},{"p":"E","x":669,"x2":717,"y":292,"y2":297},{"p":"F","x":1058,"x2":1107,"y":292,"y2":297}],
"arrows":[
{"p":"C","x":968,"y":118,"x2":960,"y2":87,"a":164},{"p":"C","x":1061,"y":91,"x2":1040,"y2":68,"a":137},{"p":"C","x":1070,"y":133,"x2":1075,"y2":148,"a":341},{"p":"C","x":1077,"y":209,"x2":1098,"y2":190,"a":227},
{"p":"E","x":613,"y":448,"x2":630,"y2":422,"a":213},{"p":"E","x":714,"y":453,"x2":725,"y2":420,"a":199},
{"p":"F","x":892,"y":343,"x2":908,"y2":325,"a":222},{"p":"F","x":952,"y":380,"x2":972,"y2":362,"a":229},{"p":"F","x":962,"y":427,"x2":992,"y2":402,"a":230},{"p":"F","x":966,"y":461,"x2":943,"y2":469,"a":72},{"p":"F","x":1093,"y":468,"x2":1095,"y2":430,"a":183}]
},
"vconcat":[
{"hconcat":[
{"width":354,"height":240,
"encoding":{"x":{"field":"x","type":"quantitative","scale":{"domain":[10,364],"nice":false,"zero":false},"axis":null},"y":{"field":"y","type":"quantitative","scale":{"domain":[12,252],"reverse":true,"nice":false,"zero":false},"axis":null}},
"layer":[
{"data":{"name":"wA"},"mark":{"type":"line","color":"#000","strokeWidth":2.2,"strokeJoin":"round"},"encoding":{"detail":{"field":"s"},"order":{"value":null}}},
{"data":{"name":"trA"},"mark":{"type":"line","strokeWidth":1.3,"strokeJoin":"round"},"encoding":{"color":{"field":"s","type":"nominal","legend":null,"scale":{"domain":["olive","green","green_lt","green_dk","olivegreen","magenta","magenta2","brown","blue","blue2","blue_lt","blue_dk","bluegray","purple","red","gold","gold2","yellow","gray","gray2","cyan","cyan_lt","orange","orange_lt","teal","goldbrown"],"range":["#a68a2e","#70ad47","#92d050","#4e7a2e","#7ea33a","#ff55ff","#ee66ee","#a0522d","#4a7fc8","#4a7fc8","#80a8e0","#2f5597","#8ea9db","#7a35b5","#ff1a1a","#ffc000","#ffc000","#f2e200","#a6a6a6","#a6a6a6","#00b0f0","#66d9f5","#ed7d31","#f4a070","#44d9a9","#bf9000"]}},"order":{"value":null}}},
{"data":{"name":"dA"},"mark":{"type":"circle","color":"#000","size":16,"opacity":1}},
{"data":{"name":"titles"},"transform":[{"filter":"datum.p==='A'"}],"mark":{"type":"text","font":"Open Sans","fontWeight":"bold","fontSize":20,"align":"left","baseline":"alphabetic","color":"#000"},"encoding":{"text":{"field":"t"}}},
{"data":{"name":"scales"},"transform":[{"filter":"datum.p==='A'"}],"mark":{"type":"text","font":"Open Sans","fontSize":18,"align":"center","baseline":"alphabetic","color":"#000"},"encoding":{"text":{"field":"t"}}},
{"data":{"name":"bars"},"transform":[{"filter":"datum.p==='A'"}],"mark":{"type":"rect","color":"#000"},"encoding":{"x2":{"field":"x2"},"y2":{"field":"y2"}}}
]},
{"width":406,"height":240,
"encoding":{"x":{"field":"x","type":"quantitative","scale":{"domain":[364,770],"nice":false,"zero":false},"axis":null},"y":{"field":"y","type":"quantitative","scale":{"domain":[12,252],"reverse":true,"nice":false,"zero":false},"axis":null}},
"layer":[
{"data":{"name":"wB"},"mark":{"type":"line","color":"#000","strokeWidth":2,"strokeJoin":"round"},"encoding":{"detail":{"field":"s"},"order":{"value":null}}},
{"data":{"name":"trB"},"mark":{"type":"line","strokeWidth":1.3,"strokeJoin":"round"},"encoding":{"color":{"field":"s","type":"nominal","legend":null,"scale":{"domain":["olive","green","green_lt","green_dk","olivegreen","magenta","magenta2","brown","blue","blue2","blue_lt","blue_dk","bluegray","purple","red","gold","gold2","yellow","gray","gray2","cyan","cyan_lt","orange","orange_lt","teal","goldbrown"],"range":["#a68a2e","#70ad47","#92d050","#4e7a2e","#7ea33a","#ff55ff","#ee66ee","#a0522d","#4a7fc8","#4a7fc8","#80a8e0","#2f5597","#8ea9db","#7a35b5","#ff1a1a","#ffc000","#ffc000","#f2e200","#a6a6a6","#a6a6a6","#00b0f0","#66d9f5","#ed7d31","#f4a070","#44d9a9","#bf9000"]}},"order":{"value":null}}},
{"data":{"name":"dB"},"mark":{"type":"circle","color":"#000","size":16,"opacity":1}},
{"data":{"name":"titles"},"transform":[{"filter":"datum.p==='B'"}],"mark":{"type":"text","font":"Open Sans","fontWeight":"bold","fontSize":20,"align":"left","baseline":"alphabetic","color":"#000"},"encoding":{"text":{"field":"t"}}},
{"data":{"name":"scales"},"transform":[{"filter":"datum.p==='B'"}],"mark":{"type":"text","font":"Open Sans","fontSize":18,"align":"center","baseline":"alphabetic","color":"#000"},"encoding":{"text":{"field":"t"}}},
{"data":{"name":"bars"},"transform":[{"filter":"datum.p==='B'"}],"mark":{"type":"rect","color":"#000"},"encoding":{"x2":{"field":"x2"},"y2":{"field":"y2"}}}
]},
{"width":366,"height":240,
"encoding":{"x":{"field":"x","type":"quantitative","scale":{"domain":[770,1136],"nice":false,"zero":false},"axis":null},"y":{"field":"y","type":"quantitative","scale":{"domain":[12,252],"reverse":true,"nice":false,"zero":false},"axis":null}},
"layer":[
{"data":{"name":"wC"},"mark":{"type":"line","color":"#000","strokeWidth":2,"strokeJoin":"round"},"encoding":{"detail":{"field":"s"},"order":{"value":null}}},
{"data":{"name":"trC"},"mark":{"type":"line","strokeWidth":1.3,"strokeJoin":"round"},"encoding":{"color":{"field":"s","type":"nominal","legend":null,"scale":{"domain":["olive","green","green_lt","green_dk","olivegreen","magenta","magenta2","brown","blue","blue2","blue_lt","blue_dk","bluegray","purple","red","gold","gold2","yellow","gray","gray2","cyan","cyan_lt","orange","orange_lt","teal","goldbrown"],"range":["#a68a2e","#70ad47","#92d050","#4e7a2e","#7ea33a","#ff55ff","#ee66ee","#a0522d","#4a7fc8","#4a7fc8","#80a8e0","#2f5597","#8ea9db","#7a35b5","#ff1a1a","#ffc000","#ffc000","#f2e200","#a6a6a6","#a6a6a6","#00b0f0","#66d9f5","#ed7d31","#f4a070","#44d9a9","#bf9000"]}},"order":{"value":null}}},
{"data":{"name":"dC"},"mark":{"type":"circle","color":"#000","size":16,"opacity":1}},
{"data":{"name":"titles"},"transform":[{"filter":"datum.p==='C'"}],"mark":{"type":"text","font":"Open Sans","fontWeight":"bold","fontSize":20,"align":"left","baseline":"alphabetic","color":"#000"},"encoding":{"text":{"field":"t"}}},
{"data":{"name":"scales"},"transform":[{"filter":"datum.p==='C'"}],"mark":{"type":"text","font":"Open Sans","fontSize":18,"align":"center","baseline":"alphabetic","color":"#000"},"encoding":{"text":{"field":"t"}}},
{"data":{"name":"bars"},"transform":[{"filter":"datum.p==='C'"}],"mark":{"type":"rect","color":"#000"},"encoding":{"x2":{"field":"x2"},"y2":{"field":"y2"}}},
{"data":{"name":"arrows"},"transform":[{"filter":"datum.p==='C'"}],"mark":{"type":"rule","color":"#1e73be","strokeWidth":4,"strokeDash":[3,2.5]},"encoding":{"x2":{"field":"x2"},"y2":{"field":"y2"}}},
{"data":{"name":"arrows"},"transform":[{"filter":"datum.p==='C'"}],"mark":{"type":"point","shape":"triangle","filled":true,"color":"#1e73be","size":190,"opacity":1},"encoding":{"angle":{"field":"a","type":"quantitative","scale":null}}}
]}
],"spacing":0,"bounds":"flush"},
{"hconcat":[
{"width":354,"height":242,
"encoding":{"x":{"field":"x","type":"quantitative","scale":{"domain":[10,364],"nice":false,"zero":false},"axis":null},"y":{"field":"y","type":"quantitative","scale":{"domain":[252,494],"reverse":true,"nice":false,"zero":false},"axis":null}},
"layer":[
{"data":{"name":"wD"},"mark":{"type":"line","color":"#000","strokeWidth":2.4,"strokeJoin":"round"},"encoding":{"detail":{"field":"s"},"order":{"value":null}}},
{"data":{"name":"trD"},"mark":{"type":"line","strokeWidth":1.3,"strokeJoin":"round"},"encoding":{"color":{"field":"s","type":"nominal","legend":null,"scale":{"domain":["olive","green","green_lt","green_dk","olivegreen","magenta","magenta2","brown","blue","blue2","blue_lt","blue_dk","bluegray","purple","red","gold","gold2","yellow","gray","gray2","cyan","cyan_lt","orange","orange_lt","teal","goldbrown"],"range":["#a68a2e","#70ad47","#92d050","#4e7a2e","#7ea33a","#ff55ff","#ee66ee","#a0522d","#4a7fc8","#4a7fc8","#80a8e0","#2f5597","#8ea9db","#7a35b5","#ff1a1a","#ffc000","#ffc000","#f2e200","#a6a6a6","#a6a6a6","#00b0f0","#66d9f5","#ed7d31","#f4a070","#44d9a9","#bf9000"]}},"order":{"value":null}}},
{"data":{"name":"dD"},"mark":{"type":"circle","color":"#000","size":16,"opacity":1}},
{"data":{"name":"titles"},"transform":[{"filter":"datum.p==='D'"}],"mark":{"type":"text","font":"Open Sans","fontWeight":"bold","fontSize":20,"align":"left","baseline":"alphabetic","color":"#000"},"encoding":{"text":{"field":"t"}}},
{"data":{"name":"scales"},"transform":[{"filter":"datum.p==='D'"}],"mark":{"type":"text","font":"Open Sans","fontSize":18,"align":"center","baseline":"alphabetic","color":"#000"},"encoding":{"text":{"field":"t"}}},
{"data":{"name":"bars"},"transform":[{"filter":"datum.p==='D'"}],"mark":{"type":"rect","color":"#000"},"encoding":{"x2":{"field":"x2"},"y2":{"field":"y2"}}}
]},
{"width":406,"height":242,
"encoding":{"x":{"field":"x","type":"quantitative","scale":{"domain":[364,770],"nice":false,"zero":false},"axis":null},"y":{"field":"y","type":"quantitative","scale":{"domain":[252,494],"reverse":true,"nice":false,"zero":false},"axis":null}},
"layer":[
{"data":{"name":"wE"},"mark":{"type":"line","color":"#000","strokeWidth":2,"strokeJoin":"round"},"encoding":{"detail":{"field":"s"},"order":{"value":null}}},
{"data":{"name":"trE"},"mark":{"type":"line","strokeWidth":1.3,"strokeJoin":"round"},"encoding":{"color":{"field":"s","type":"nominal","legend":null,"scale":{"domain":["olive","green","green_lt","green_dk","olivegreen","magenta","magenta2","brown","blue","blue2","blue_lt","blue_dk","bluegray","purple","red","gold","gold2","yellow","gray","gray2","cyan","cyan_lt","orange","orange_lt","teal","goldbrown"],"range":["#a68a2e","#70ad47","#92d050","#4e7a2e","#7ea33a","#ff55ff","#ee66ee","#a0522d","#4a7fc8","#4a7fc8","#80a8e0","#2f5597","#8ea9db","#7a35b5","#ff1a1a","#ffc000","#ffc000","#f2e200","#a6a6a6","#a6a6a6","#00b0f0","#66d9f5","#ed7d31","#f4a070","#44d9a9","#bf9000"]}},"order":{"value":null}}},
{"data":{"name":"dE"},"mark":{"type":"circle","color":"#000","size":16,"opacity":1}},
{"data":{"name":"titles"},"transform":[{"filter":"datum.p==='E'"}],"mark":{"type":"text","font":"Open Sans","fontWeight":"bold","fontSize":20,"align":"left","baseline":"alphabetic","color":"#000"},"encoding":{"text":{"field":"t"}}},
{"data":{"name":"scales"},"transform":[{"filter":"datum.p==='E'"}],"mark":{"type":"text","font":"Open Sans","fontSize":18,"align":"center","baseline":"alphabetic","color":"#000"},"encoding":{"text":{"field":"t"}}},
{"data":{"name":"bars"},"transform":[{"filter":"datum.p==='E'"}],"mark":{"type":"rect","color":"#000"},"encoding":{"x2":{"field":"x2"},"y2":{"field":"y2"}}},
{"data":{"name":"arrows"},"transform":[{"filter":"datum.p==='E'"}],"mark":{"type":"rule","color":"#ff0000","strokeWidth":4,"strokeDash":[3,2.5]},"encoding":{"x2":{"field":"x2"},"y2":{"field":"y2"}}},
{"data":{"name":"arrows"},"transform":[{"filter":"datum.p==='E'"}],"mark":{"type":"point","shape":"triangle","filled":true,"color":"#ff0000","size":190,"opacity":1},"encoding":{"angle":{"field":"a","type":"quantitative","scale":null}}}
]},
{"width":366,"height":242,
"encoding":{"x":{"field":"x","type":"quantitative","scale":{"domain":[770,1136],"nice":false,"zero":false},"axis":null},"y":{"field":"y","type":"quantitative","scale":{"domain":[252,494],"reverse":true,"nice":false,"zero":false},"axis":null}},
"layer":[
{"data":{"name":"wF"},"mark":{"type":"line","color":"#000","strokeWidth":2,"strokeJoin":"round"},"encoding":{"detail":{"field":"s"},"order":{"value":null}}},
{"data":{"name":"trF"},"mark":{"type":"line","strokeWidth":1.3,"strokeJoin":"round"},"encoding":{"color":{"field":"s","type":"nominal","legend":null,"scale":{"domain":["olive","green","green_lt","green_dk","olivegreen","magenta","magenta2","brown","blue","blue2","blue_lt","blue_dk","bluegray","purple","red","gold","gold2","yellow","gray","gray2","cyan","cyan_lt","orange","orange_lt","teal","goldbrown"],"range":["#a68a2e","#70ad47","#92d050","#4e7a2e","#7ea33a","#ff55ff","#ee66ee","#a0522d","#4a7fc8","#4a7fc8","#80a8e0","#2f5597","#8ea9db","#7a35b5","#ff1a1a","#ffc000","#ffc000","#f2e200","#a6a6a6","#a6a6a6","#00b0f0","#66d9f5","#ed7d31","#f4a070","#44d9a9","#bf9000"]}},"order":{"value":null}}},
{"data":{"name":"dF"},"mark":{"type":"circle","color":"#000","size":16,"opacity":1}},
{"data":{"name":"titles"},"transform":[{"filter":"datum.p==='F'"}],"mark":{"type":"text","font":"Open Sans","fontWeight":"bold","fontSize":20,"align":"left","baseline":"alphabetic","color":"#000"},"encoding":{"text":{"field":"t"}}},
{"data":{"name":"scales"},"transform":[{"filter":"datum.p==='F'"}],"mark":{"type":"text","font":"Open Sans","fontSize":18,"align":"center","baseline":"alphabetic","color":"#000"},"encoding":{"text":{"field":"t"}}},
{"data":{"name":"bars"},"transform":[{"filter":"datum.p==='F'"}],"mark":{"type":"rect","color":"#000"},"encoding":{"x2":{"field":"x2"},"y2":{"field":"y2"}}},
{"data":{"name":"arrows"},"transform":[{"filter":"datum.p==='F'"}],"mark":{"type":"rule","color":"#ff0000","strokeWidth":4,"strokeDash":[3,2.5]},"encoding":{"x2":{"field":"x2"},"y2":{"field":"y2"}}},
{"data":{"name":"arrows"},"transform":[{"filter":"datum.p==='F'"}],"mark":{"type":"point","shape":"triangle","filled":true,"color":"#ff0000","size":190,"opacity":1},"encoding":{"angle":{"field":"a","type":"quantitative","scale":null}}}
]}
],"spacing":0,"bounds":"flush"}
],
"spacing":0,
"resolve":{"scale":{"x":"independent","y":"independent"}}
}
